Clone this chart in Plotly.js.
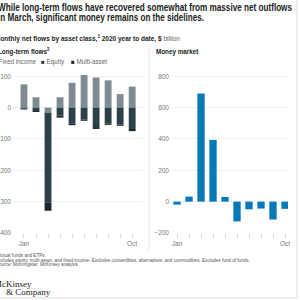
<!DOCTYPE html>
<html><head><meta charset="utf-8">
<script src="https://cdn.plot.ly/plotly-3.0.1.min.js"></script>
<style>html,body{margin:0;padding:0;background:#fff;}#c{width:300px;height:300px;}</style>
</head><body><div id="c"></div>
<script>
var months = [1,2,3,4,5,6,7,8,9,10];
var monthLabels = ["Jan","","","","","","","","","Oct"];
var fixedIncome = [74,33,-16,33,79,104,96,87,43,67];
var equity = [-3,-8,-286,-25,-50,-38,-62,-51,-54,-68];
var multiAsset = [-3,-6,-27,-7,-6,-4,-6,-4,-4,-7];
var moneyMarket = [-19,32,690,394,30,-126,-49,-44,-114,-46];
var leftTicks = [100,0,-100,-200,-300,-400];
var rightTicks = [800,600,400,200,0,-200];

var W = 300, H = 300;
function px(x){return x/W;}
function py(y){return 1-y/H;}

var cFI = "#7f8b92", cEq = "#2b4049", cMA = "#1e2628", cMM = "#0679b8";
var traces = [
 {type:"bar", x:months, y:fixedIncome, name:"Fixed income", marker:{color:cFI}, width:0.57, xaxis:"x", yaxis:"y", hoverinfo:"none"},
 {type:"bar", x:months, y:equity, name:"Equity", marker:{color:cEq}, width:0.57, xaxis:"x", yaxis:"y", hoverinfo:"none"},
 {type:"bar", x:months, y:multiAsset, name:"Multi-asset", marker:{color:cMA}, width:0.57, xaxis:"x", yaxis:"y", hoverinfo:"none"},
 {type:"bar", x:months, y:moneyMarket, name:"Money market", marker:{color:cMM}, width:0.61, xaxis:"x2", yaxis:"y2", hoverinfo:"none"}
];
var tickFont = {family:"Liberation Sans, Arial, sans-serif", size:6.5, color:"#777"};
var yDom = [py(233), py(70)];
var axX = function(dom, rng){return {domain:dom, range:rng, tickvals:months, ticktext:monthLabels, ticks:"outside", ticklen:4, tickcolor:"#d5d5d5", tickwidth:1, showgrid:false, zeroline:false, showline:false, tickfont:tickFont, fixedrange:true};};
var axY = function(dom, rng, tv, anchor){return {domain:dom, range:rng, tickvals:tv, showgrid:true, gridcolor:"#eef0f2", gridwidth:1, zeroline:false, showline:false, ticks:"", tickfont:tickFont, anchor:anchor, fixedrange:true, ticklabelstandoff:2};};

var tf = "Liberation Sans, Arial, sans-serif";
function ann(x, y, text, size, opts){
  var a = {xref:"paper", yref:"paper", x:px(x), y:py(y), text:text, showarrow:false, xanchor:"left", yanchor:"middle", align:"left", font:{family:tf, size:size, color:"#222"}};
  if(opts){for(var k in opts){a[k]=opts[k];}}
  return a;
}
var fnFont = "Liberation Sans, Arial, sans-serif";
var annotations = [
 ann(-4, 7.5, "<b>While long-term flows have recovered somewhat from massive net outflows</b>", 10),
 ann(-4, 17.8, "<b>in March, significant money remains on the sidelines.</b>", 10),
 ann(-7, 37.5, "<b>Monthly net flows by asset class,<sup>1</sup> 2020 year to date, $</b> <span style='color:#666'>billion</span>", 7.2),
 ann(-4, 51.7, "<b>Long-term flows<sup>2</sup></b>", 6.3),
 ann(154, 51.7, "<b>Money market</b>", 6.3),
 ann(-9, 61.7, "<span style='color:"+cFI+"'>■</span> Fixed income", 6.3, {font:{family:fnFont,size:6.3,color:"#666"}}),
 ann(39.5, 61.7, "<span style='color:"+cEq+"'>■</span> Equity", 6.3, {font:{family:fnFont,size:6.3,color:"#666"}}),
 ann(69, 61.7, "<span style='color:"+cMA+"'>■</span> Multi-asset", 6.3, {font:{family:fnFont,size:6.3,color:"#666"}}),
 ann(-7, 255.3, "<sup>1</sup>Mutual funds and ETPs.", 4.6, {font:{family:fnFont,size:4.6,color:"#555"}}),
 ann(-7, 260.2, "<sup>2</sup>Includes equity, multi-asset, and fixed income. Excludes convertibles, alternatives, and commodities. Excludes fund of funds.", 4.6, {font:{family:fnFont,size:4.6,color:"#555"}}),
 ann(-6, 264.8, "Source: Morningstar; McKinsey analysis", 4.6, {font:{family:fnFont,size:4.6,color:"#555"}}),
 ann(-8, 283.5, "McKinsey", 9, {font:{family:"Liberation Serif, DejaVu Serif, serif", size:9, color:"#1a1a1a"}}),
 ann(4, 291.8, "&amp; Company", 9, {font:{family:"Liberation Serif, DejaVu Serif, serif", size:9, color:"#1a1a1a"}})
];
// desired drawn widths (px) of text lines, to mimic the narrow original typeface
var fitWidths = {0:294, 1:206, 2:185};
var shapes = [
 {type:"line", xref:"paper", yref:"paper", x0:px(149), x1:px(149), y0:py(46), y1:py(250), line:{color:"#e4e4e4", width:1}},
 {type:"line", xref:"paper", yref:"paper", x0:px(297), x1:px(297), y0:py(0), y1:py(298), line:{color:"#dddddd", width:1}},
 {type:"line", xref:"paper", yref:"paper", x0:px(0), x1:px(297), y0:py(298), y1:py(298), line:{color:"#dddddd", width:1}}
];
var layout = {
 width:W, height:H, margin:{l:0,r:0,t:0,b:0}, paper_bgcolor:"#ffffff", plot_bgcolor:"rgba(0,0,0,0)",
 showlegend:false, barmode:"relative",
 xaxis: axX([px(14), px(143)], [0.17, 10.9]),
 yaxis: axY(yDom, [-400, 120], leftTicks, "x"),
 xaxis2: axX([px(172), px(288)], [0.58, 10.25]),
 yaxis2: axY(yDom, [-200, 840], rightTicks, "x2"),
 annotations: annotations, shapes: shapes
};
layout.xaxis.anchor = "y"; layout.xaxis2.anchor = "y2";
Plotly.newPlot("c", traces, layout, {staticPlot:true, displayModeBar:false}).then(function(gd){
  Object.keys(fitWidths).forEach(function(i){
    var g = gd.querySelector('.annotation[data-index="'+i+'"] text.annotation-text');
    if(g){ g.setAttribute("textLength", fitWidths[i]); g.setAttribute("lengthAdjust","spacingAndGlyphs"); }
  });
});
</script></body></html>
